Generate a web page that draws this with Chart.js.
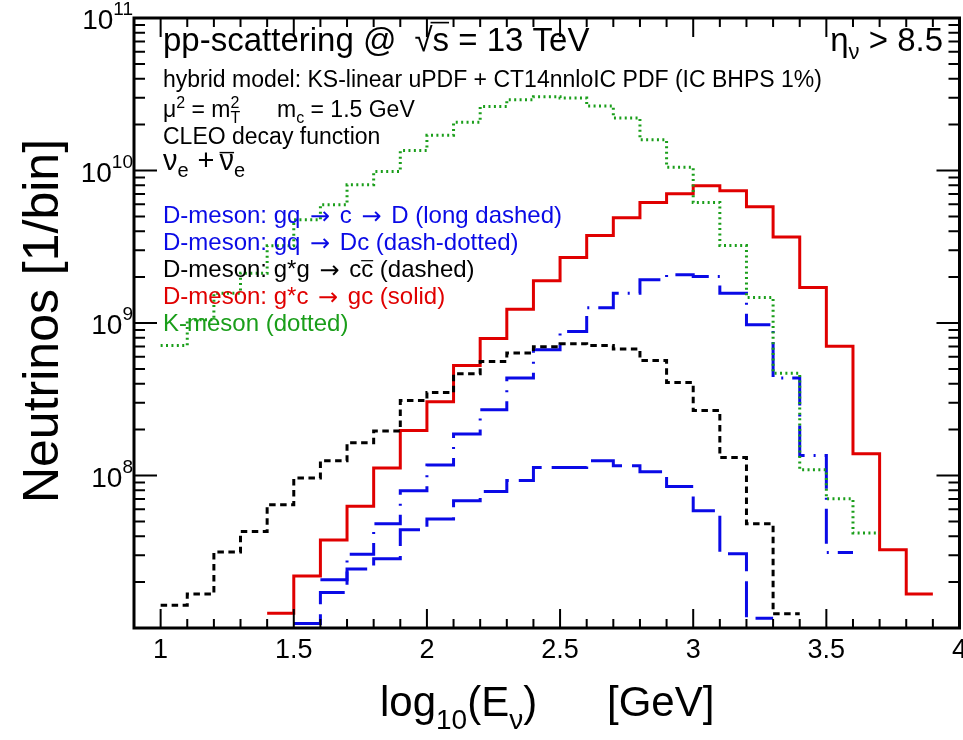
<!DOCTYPE html>
<html>
<head>
<meta charset="utf-8">
<script src="https://cdn.jsdelivr.net/npm/chart.js@4/dist/chart.umd.min.js"></script>
<style>
html,body{margin:0;padding:0;background:#fff;}
#wrap{width:963px;height:740px;position:relative;}
</style>
</head>
<body>
<div id="wrap"><canvas id="c" width="963" height="740"></canvas></div>
<script>
// ---- data (bin lower edges, log10(E/GeV)) ----
const bins = [1.0,1.1,1.2,1.3,1.4,1.5,1.6,1.7,1.8,1.9,2.0,2.1,2.2,2.3,2.4,2.5,2.6,2.7,2.8,2.9,3.0,3.1,3.2,3.3,3.4,3.5,3.6,3.7,3.8,3.9];
const binWidth = 0.1;

// D-meson: gq -> c -> D (long dashed)
const gqToCToD = [null,null,null,null,null,1.07e7,1.71e7,2.44e7,2.84e7,4.41e7,5.18e7,6.82e7,7.85e7,9.27e7,1.13e8,1.13e8,1.25e8,1.16e8,1.06e8,8.47e7,5.87e7,3.07e7,1.16e7,null,null,null,null,null,null,null];
// D-meson: gq -> Dc (dash-dotted)
const gqToDc = [null,null,null,null,null,null,2.07e7,3.05e7,4.82e7,7.94e7,1.17e8,1.87e8,2.70e8,4.36e8,6.67e8,8.79e8,1.26e9,1.57e9,1.92e9,2.07e9,2.02e9,1.57e9,9.73e8,4.36e8,1.35e8,3.13e7,null,null,null,null];
// D-meson: g*g -> c cbar (dashed)
const ggToCCbar = [1.41e7,1.67e7,3.15e7,4.30e7,6.43e7,9.62e7,1.25e8,1.64e8,1.96e8,3.10e8,3.50e8,4.65e8,5.60e8,6.35e8,6.98e8,7.31e8,7.11e8,6.75e8,5.68e8,4.07e8,2.67e8,1.31e8,4.82e7,1.24e7,null,null,null,null,null,null];
// D-meson: g*c -> gc (solid)
const gcToGc = [null,null,null,null,1.25e7,2.19e7,3.77e7,6.28e7,1.12e8,1.97e8,3.04e8,5.26e8,7.9e8,1.23e9,1.89e9,2.69e9,3.75e9,4.90e9,6.17e9,7.03e9,7.94e9,7.36e9,5.78e9,3.66e9,1.71e9,7.03e8,1.39e8,3.26e7,1.67e7,null];
// K-meson (dotted)
const kMeson = [7.11e8,1.05e9,1.57e9,2.12e9,3.21e9,4.75e9,5.96e9,8.05e9,9.84e9,1.35e10,1.70e10,2.07e10,2.63e10,2.91e10,3.05e10,2.99e10,2.65e10,2.21e10,1.59e10,1.05e10,6.17e9,3.22e9,1.47e9,4.69e8,1.09e8,7.03e7,4.19e7,null,null,null];

// axis ticks
const xTickValues = [1,1.5,2,2.5,3,3.5,4];
const xTickLabels = ['1','1.5','2','2.5','3','3.5','4'];
const yTickExponents = [8,9,10,11];

const FONT = '"Liberation Sans", Arial, Helvetica, sans-serif';
const ARROWFONT = '"DejaVu Sans", sans-serif';
const BLUE = '#0a0ae6', RED = '#e00000', GREEN = '#1a9e1a', BLACK = '#000000';

function histPoints(vals){
  const pts = []; let last = -1;
  vals.forEach((v,i)=>{ if(v!==null){ pts.push({x:bins[i], y:v}); last=i; } });
  if(last>=0) pts.push({x: +(bins[last]+binWidth).toFixed(2), y: vals[last]});
  return pts;
}

function ds(label, vals, color, dash){
  return {label, data: histPoints(vals), borderColor: color, borderWidth: 3,
          borderDash: dash, stepped: 'before', fill: false, pointRadius: 0,
          borderJoinStyle: 'miter', borderCapStyle: 'butt'};
}

function drawRich(ctx, x, y, parts, color, align){
  let total = 0;
  parts.forEach(p=>{ ctx.font = p.s+'px '+(p.f||FONT); p.w = ctx.measureText(p.t).width; if(!p.stack) total += p.w + (p.gap||0) + (p.pre||0); });
  let cx = align==='right' ? x-total : x;
  parts.forEach(p=>{
    cx += (p.pre||0);
    ctx.font = p.s+'px '+(p.f||FONT);
    ctx.fillStyle = p.c || color;
    ctx.fillText(p.t, cx, y+(p.dy||0));
    if(p.over){
      ctx.strokeStyle = p.c || color; ctx.lineWidth = Math.max(1.2, p.s/20);
      const oy = y+(p.dy||0) - p.s*(p.overH||0.78);
      ctx.beginPath(); ctx.moveTo(cx+(p.ox||0), oy); ctx.lineTo(cx+p.w, oy); ctx.stroke();
    }
    if(!p.stack) cx += p.w + (p.gap||0);
  });
  return cx;
}

// text with wide arrows
function legendParts(str, s){
  const out = [];
  str.split('→').forEach((seg,i)=>{
    if(i>0) out.push({t:'→', s:s, f:ARROWFONT, dy:1, pre:3, gap:3});
    if(seg) out.push({t:seg, s:s});
  });
  return out;
}

const rootPlugin = {
  id: 'rootAxes',
  afterDraw(chart){
    const ctx = chart.ctx, a = chart.chartArea, xs = chart.scales.x, ys = chart.scales.y;
    ctx.save();
    // ticks
    ctx.strokeStyle = '#000'; ctx.lineWidth = 2;
    ctx.beginPath();
    for(let k=10;k<40;k++){
      const px = xs.getPixelForValue(k/10);
      const L = (k%5===0) ? 19 : 9;
      ctx.moveTo(px, a.bottom); ctx.lineTo(px, a.bottom-L);
      ctx.moveTo(px, a.top); ctx.lineTo(px, a.top+L);
    }
    for(let e=7;e<=10;e++){
      for(let m=1;m<=9;m++){
        if(e===7 && m===1) continue;
        const py = ys.getPixelForValue(m*Math.pow(10,e));
        const L = (m===1) ? 23 : 11;
        ctx.moveTo(a.left, py); ctx.lineTo(a.left+L, py);
        ctx.moveTo(a.right, py); ctx.lineTo(a.right-L, py);
      }
    }
    ctx.stroke();
    // frame
    ctx.lineWidth = 3;
    ctx.strokeRect(a.left, a.top, a.right-a.left, a.bottom-a.top);

    // x tick labels
    ctx.fillStyle = '#000'; ctx.textAlign = 'center'; ctx.textBaseline = 'alphabetic';
    ctx.font = '27px '+FONT;
    xTickValues.forEach((v,i)=>{ ctx.fillText(xTickLabels[i], xs.getPixelForValue(v), 658); });
    // y tick labels 10^n
    ctx.textAlign = 'left';
    yTickExponents.forEach(e=>{
      const py = ys.getPixelForValue(Math.pow(10,e));
      drawRich(ctx, 133, py+11, [{t:'10', s:28},{t:String(e), s:19, dy:-14}], '#000', 'right');
    });
    // axis titles
    drawRich(ctx, 380, 716, [{t:'log',s:42},{t:'10',s:28,dy:13},{t:'(E',s:42},{t:'ν',s:28,dy:13},{t:')',s:42}], '#000');
    drawRich(ctx, 607, 716, [{t:'[GeV]',s:42}], '#000');
    ctx.save();
    ctx.translate(58, 321); ctx.rotate(-Math.PI/2);
    ctx.textAlign = 'center'; ctx.font = '50px '+FONT; ctx.fillStyle = '#000';
    ctx.fillText('Neutrinos [1/bin]', 0, 0);
    ctx.restore();

    // text block
    ctx.textAlign = 'left';
    drawRich(ctx, 163, 51, [{t:'pp-scattering @', s:33, gap:18},{t:'√', s:33},{t:'s', s:33, over:true, overH:0.86, ox:-2},{t:' = 13 TeV', s:33}], '#000');
    drawRich(ctx, 943, 51, [{t:'η', s:33},{t:'ν', s:22, dy:8},{t:' > 8.5', s:33}], '#000', 'right');
    drawRich(ctx, 163, 86.5, [{t:'hybrid model: KS-linear uPDF + CT14nnloIC PDF (IC BHPS 1%)', s:23}], '#000');
    drawRich(ctx, 163, 117, [{t:'μ',s:23},{t:'2',s:16,dy:-9},{t:' = m',s:23},{t:'2',s:16,dy:-9,stack:true},{t:'T',s:16,dy:6}], '#000');
    drawRich(ctx, 277, 117, [{t:'m',s:23},{t:'c',s:16,dy:6},{t:' = 1.5 GeV',s:23}], '#000');
    drawRich(ctx, 163, 143.5, [{t:'CLEO decay function', s:23}], '#000');
    drawRich(ctx, 163, 170, [{t:'ν',s:29},{t:'e',s:20,dy:7, gap:9},{t:'+',s:29, gap:5},{t:'ν',s:29,over:true,overH:0.6},{t:'e',s:20,dy:7}], '#000');

    drawRich(ctx, 163, 223, legendParts('D-meson: gq → c → D (long dashed)', 24), BLUE);
    drawRich(ctx, 163, 250, legendParts('D-meson: gq → Dc (dash-dotted)', 24), BLUE);
    drawRich(ctx, 163, 277, legendParts('D-meson: g*g → c', 24).concat([{t:'c', s:24, over:true, overH:0.68},{t:' (dashed)', s:24}]), BLACK);
    drawRich(ctx, 163, 304, legendParts('D-meson: g*c → gc (solid)', 24), RED);
    drawRich(ctx, 163, 331, [{t:'K-meson (dotted)', s:24}], GREEN);
    ctx.restore();
  }
};

new Chart(document.getElementById('c').getContext('2d'), {
  type: 'line',
  data: {
    datasets: [
      ds('K-meson (dotted)', kMeson, GREEN, [2, 3.4]),
      ds('D-meson: g*g → cc̄ (dashed)', ggToCCbar, BLACK, [6.5, 4.5]),
      ds('D-meson: gq → c → D (long dashed)', gqToCToD, BLUE, [36, 10]),
      ds('D-meson: gq → Dc (dash-dotted)', gqToDc, BLUE, [35, 9, 2, 9]),
      ds('D-meson: g*c → gc (solid)', gcToGc, RED, [])
    ]
  },
  options: {
    responsive: false,
    animation: false,
    devicePixelRatio: 1,
    layout: { padding: { left: 0, right: 3.5, top: 18, bottom: 0 } },
    plugins: { legend: { display: false }, tooltip: { enabled: false } },
    elements: { point: { radius: 0 }, line: { tension: 0 } },
    scales: {
      x: {
        type: 'linear', min: 0.9, max: 4.0,
        grid: { display: false, drawTicks: false }, border: { display: false },
        ticks: { display: false },
        afterFit(scale){ scale.height = 112; }
      },
      y: {
        type: 'logarithmic', min: 1e7, max: 1e11,
        grid: { display: false, drawTicks: false }, border: { display: false },
        ticks: { display: false },
        afterFit(scale){ scale.width = 134; }
      }
    }
  },
  plugins: [rootPlugin]
});
</script>
</body>
</html>
